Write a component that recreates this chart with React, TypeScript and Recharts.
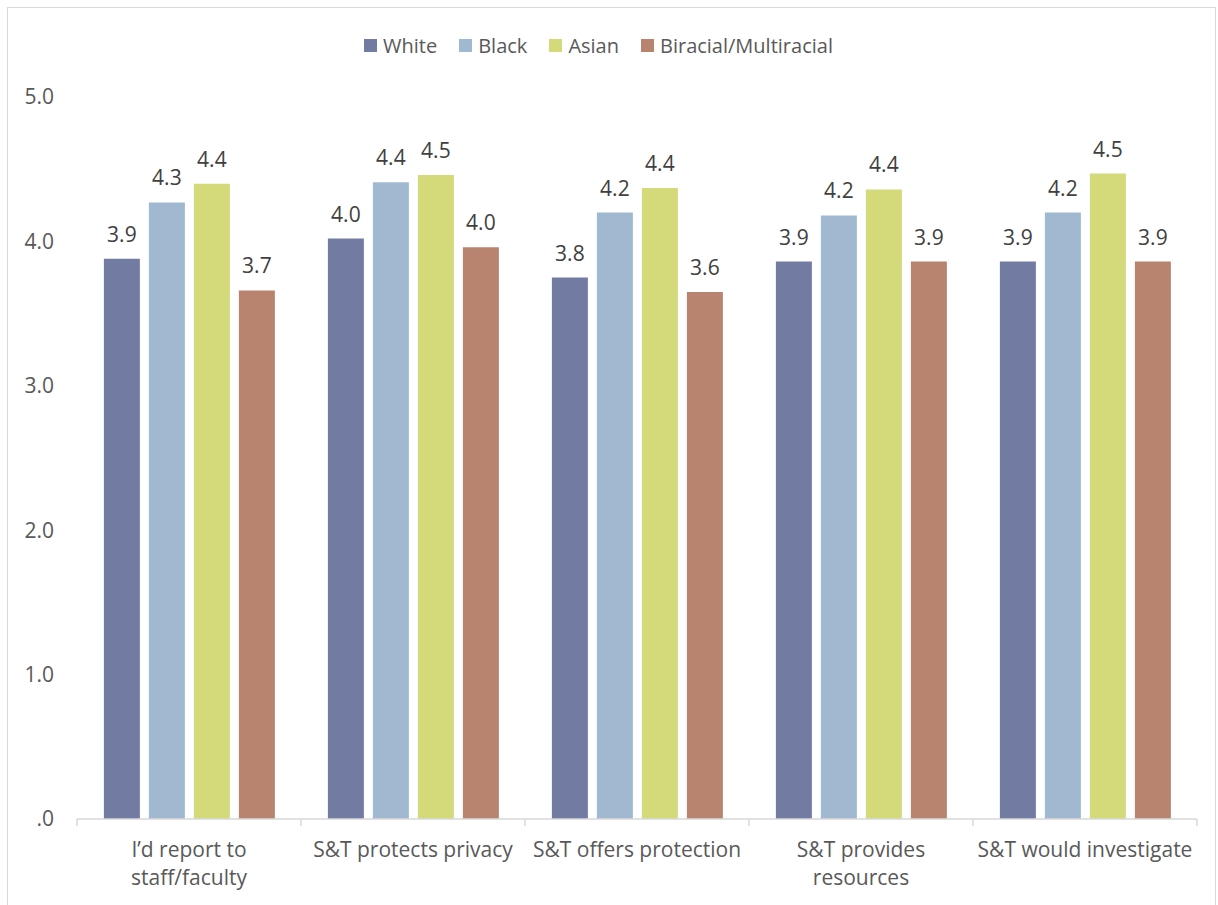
import React from "react";
import { BarChart, Bar, XAxis, YAxis, LabelList, Legend } from "recharts";

// Survey statements (line breaks mark where the axis label wraps)
const categories = [
  "I’d report to\nstaff/faculty",
  "S&T protects privacy",
  "S&T offers protection",
  "S&T provides\nresources",
  "S&T would investigate",
];

// Mean agreement score by race
const whiteValues = [3.88, 4.02, 3.75, 3.86, 3.86];
const blackValues = [4.27, 4.41, 4.2, 4.18, 4.2];
const asianValues = [4.4, 4.46, 4.37, 4.36, 4.47];
const multiracialValues = [3.66, 3.96, 3.65, 3.86, 3.86];

const yTicks = [0, 1, 2, 3, 4, 5];

const seriesList = [
  { key: "White", color: "#727CA3", values: whiteValues },
  { key: "Black", color: "#A1B9D0", values: blackValues },
  { key: "Asian", color: "#D4DA7A", values: asianValues },
  { key: "Biracial/Multiracial", color: "#B9846F", values: multiracialValues },
];

const data = categories.map((category, i) => {
  const row: Record<string, string | number> = { category };
  seriesList.forEach((s) => {
    row[s.key] = s.values[i];
  });
  return row;
});

const FONT = '"Open Sans", "Noto Sans", sans-serif';
const AXIS_COLOR = "#D9D9D9";
const TEXT_COLOR = "#595959";
const LABEL_SIZE = 21;

function CategoryTick(props: any) {
  const { x, y, payload, index, visibleTicksCount } = props;
  const half = payload?.offset ?? 0;
  const lines = String(payload.value).split("\n");
  const isLast = index === (visibleTicksCount ?? categories.length) - 1;
  return (
    <g>
      <line x1={x - half} x2={x - half} y1={y} y2={y + 7} stroke={AXIS_COLOR} strokeWidth={1.5} />
      {isLast && (
        <line x1={x + half} x2={x + half} y1={y} y2={y + 7} stroke={AXIS_COLOR} strokeWidth={1.5} />
      )}
      <text x={x} y={y + 38} textAnchor="middle" fill={TEXT_COLOR} fontSize={LABEL_SIZE} fontFamily={FONT}>
        {lines.map((line, i) => (
          <tspan key={i} x={x} dy={i === 0 ? 0 : 28}>
            {line}
          </tspan>
        ))}
      </text>
    </g>
  );
}

function LegendContent() {
  return (
    <div
      style={{
        display: "flex",
        justifyContent: "center",
        alignItems: "center",
        height: 34,
        fontFamily: FONT,
        fontSize: 20,
        color: TEXT_COLOR,
      }}
    >
      {seriesList.map((s, i) => (
        <span
          key={s.key}
          style={{ display: "flex", alignItems: "center", marginRight: i === seriesList.length - 1 ? 0 : 22 }}
        >
          <span style={{ width: 13, height: 13, background: s.color, marginRight: 6, display: "inline-block" }} />
          {s.key}
        </span>
      ))}
    </div>
  );
}

export default function App() {
  return (
    <div style={{ position: "absolute", left: 0, top: 0, width: 1218, height: 905, background: "#fff", overflow: "hidden" }}>
      <div
        style={{
          position: "absolute",
          left: 7,
          top: 7,
          width: 1209,
          height: 910,
          border: `1px solid ${AXIS_COLOR}`,
          boxSizing: "border-box",
        }}
      />
      <div style={{ position: "absolute", left: 0, top: 0 }}>
        <BarChart
          width={1218}
          height={905}
          data={data}
          margin={{ top: 63, right: 21, bottom: 6, left: 0 }}
          barCategoryGap="12%"
          barGap={9}
          style={{ fontFamily: FONT }}
        >
          <Legend verticalAlign="top" align="center" wrapperStyle={{ top: 28 }} content={<LegendContent />} />
          <XAxis
            dataKey="category"
            axisLine={{ stroke: AXIS_COLOR, strokeWidth: 1.5 }}
            tickLine={false}
            tickSize={0}
            tickMargin={0}
            height={80}
            interval={0}
            tick={<CategoryTick />}
          />
          <YAxis
            domain={[0, 5]}
            ticks={yTicks}
            axisLine={false}
            tickLine={false}
            width={77}
            tickMargin={17}
            tickFormatter={(v: number) => (v === 0 ? ".0" : v.toFixed(1))}
            tick={{ fill: TEXT_COLOR, fontSize: LABEL_SIZE, fontFamily: FONT }}
          />
          {seriesList.map((s) => (
            <Bar key={s.key} dataKey={s.key} fill={s.color} isAnimationActive={false}>
              <LabelList
                dataKey={s.key}
                position="top"
                offset={17}
                formatter={(v: number) => v.toFixed(1)}
                fill="#404040"
                fontSize={LABEL_SIZE}
                fontFamily={FONT}
              />
            </Bar>
          ))}
        </BarChart>
      </div>
    </div>
  );
}
